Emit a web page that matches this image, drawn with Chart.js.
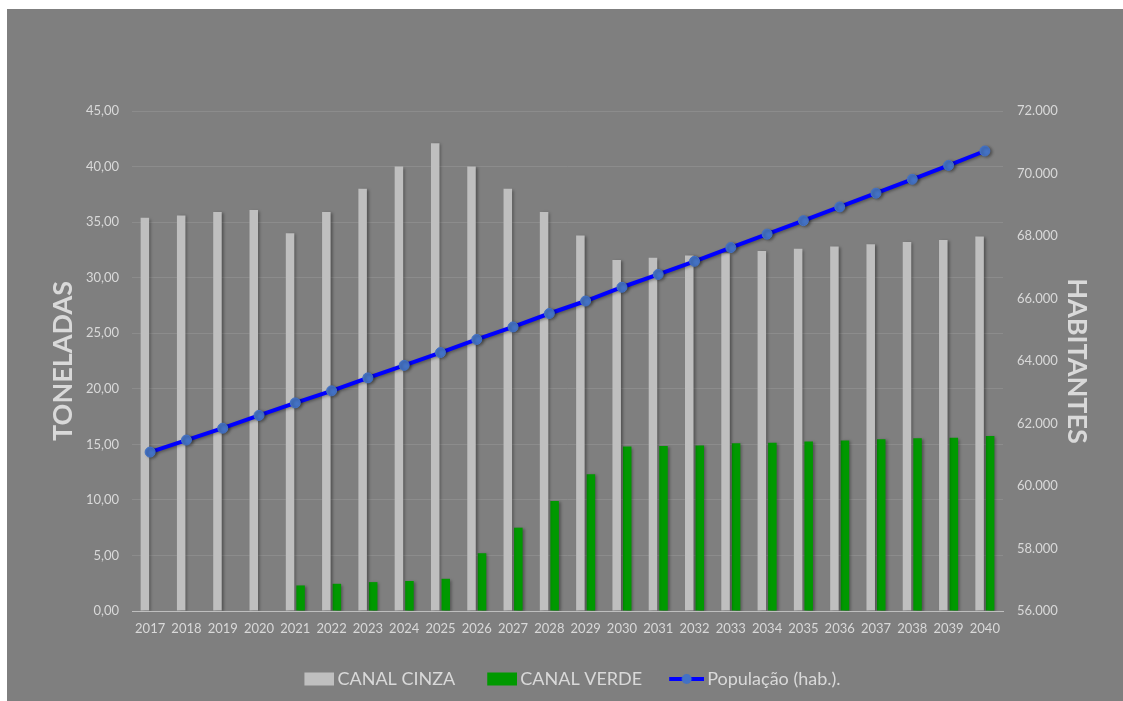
<!DOCTYPE html>
<html>
<head>
<meta charset="utf-8">
<script src="https://cdn.jsdelivr.net/npm/chart.js@4"></script>
<style>
  html, body { margin: 0; padding: 0; background: #ffffff; overflow: hidden; }
  #wrap { position: absolute; left: 0; top: 0; width: 1123px; height: 701px; }
</style>
</head>
<body>
<div id="wrap"><canvas id="grafico"></canvas></div>
<script>
// anos do eixo x
const anos = ['2017', '2018', '2019', '2020', '2021', '2022', '2023', '2024', '2025', '2026', '2027', '2028',
    '2029', '2030', '2031', '2032', '2033', '2034', '2035', '2036', '2037', '2038', '2039', '2040'];

// toneladas
const canalCinza = [35.4, 35.6, 35.9, 36.1, 34.0, 35.9, 38.0, 40.0, 42.1, 40.0, 38.0, 35.9,
    33.8, 31.6, 31.8, 32.0, 32.2, 32.4, 32.6, 32.8, 33.0, 33.2, 33.4, 33.7];
const canalVerde = [null, null, null, null, 2.3, 2.45, 2.6, 2.7, 2.9, 5.2, 7.5, 9.9,
    12.3, 14.8, 14.85, 14.9, 15.1, 15.15, 15.25, 15.35, 15.45, 15.55, 15.6, 15.75];

// habitantes
const populacao = [61085, 61470, 61850, 62260, 62660, 63045, 63460, 63860, 64270, 64690, 65090, 65520,
    65920, 66360, 66770, 67190, 67630, 68060, 68490, 68930, 69370, 69815, 70260, 70720];

const corTexto = '#d9d9d9';
const fonte = 'Lato, "Open Sans", sans-serif';

// caixinha da legenda (conteudo alinhado a direita para ficar perto do texto)
function iconeLegenda(tipo, cor) {
    const c = document.createElement('canvas');
    c.width = 58;
    c.height = 14;
    const g = c.getContext('2d');
    if (tipo === 'linha') {
        g.strokeStyle = '#0000ff';
        g.lineWidth = 4;
        g.beginPath();
        g.moveTo(23, 7);
        g.lineTo(58, 7);
        g.stroke();
        g.fillStyle = '#4472c4';
        g.beginPath();
        g.arc(40.5, 7, 5, 0, Math.PI * 2);
        g.fill();
    } else {
        g.fillStyle = cor;
        g.fillRect(28, 0.5, 30, 13);
    }
    return c;
}

const fundo = {
    id: 'fundo',
    beforeDraw(chart) {
        const ctx = chart.ctx;
        ctx.save();
        ctx.fillStyle = '#7f7f7f';
        ctx.fillRect(7, 9, chart.width - 7, chart.height - 9);
        ctx.restore();
    }
};

const sombra = {
    id: 'sombra',
    beforeDatasetsDraw(chart) {
        const ctx = chart.ctx;
        ctx.save();
        ctx.shadowColor = 'rgba(0,0,0,0.35)';
        ctx.shadowOffsetX = 2;
        ctx.shadowOffsetY = 1;
        ctx.shadowBlur = 3;
    },
    afterDatasetsDraw(chart) {
        chart.ctx.restore();
    }
};

const ctx = document.getElementById('grafico').getContext('2d');
new Chart(ctx, {
    data: {
        labels: anos,
        datasets: [
            {
                type: 'bar',
                label: 'CANAL CINZA',
                data: canalCinza,
                backgroundColor: '#bfbfbf',
                yAxisID: 'y',
                order: 1,
                categoryPercentage: 0.58,
                barPercentage: 0.81
            },
            {
                type: 'bar',
                label: 'CANAL VERDE',
                data: canalVerde,
                backgroundColor: '#009900',
                yAxisID: 'y',
                order: 1,
                categoryPercentage: 0.58,
                barPercentage: 0.81
            },
            {
                type: 'line',
                label: 'População (hab.).',
                data: populacao,
                borderColor: '#0000ff',
                borderWidth: 4,
                pointRadius: 5,
                pointBackgroundColor: '#4472c4',
                pointBorderColor: '#4472c4',
                pointBorderWidth: 1,
                yAxisID: 'y1',
                order: 0
            }
        ]
    },
    options: {
        responsive: true,
        maintainAspectRatio: false,
        animation: false,
        layout: { padding: { top: 111, bottom: 3, left: 0, right: 0 } },
        scales: {
            x: {
                offset: true,
                grid: { display: false, drawTicks: false },
                border: { display: true, color: '#bfbfbf', width: 1 },
                ticks: { color: corTexto, font: { family: fonte, size: 13 }, padding: 10, maxRotation: 0, autoSkip: false },
                afterFit(scale) { scale.height = 49; }
            },
            y: {
                position: 'left',
                min: 0,
                max: 45,
                ticks: {
                    stepSize: 5,
                    color: corTexto,
                    padding: 13,
                    font: { family: fonte, size: 13 },
                    callback: v => v.toFixed(2).replace('.', ',')
                },
                grid: { color: '#8c8c8c', drawTicks: false },
                border: { display: false },
                title: {
                    display: true,
                    text: 'TONELADAS',
                    color: corTexto,
                    font: { family: fonte, size: 27, weight: 'bold' },
                    padding: { top: 47, bottom: 0 }
                },
                afterFit(scale) { scale.width = 132; }
            },
            y1: {
                position: 'right',
                min: 56000,
                max: 72000,
                ticks: {
                    stepSize: 2000,
                    color: corTexto,
                    padding: 14,
                    font: { family: fonte, size: 13 },
                    callback: v => String(v).replace(/\B(?=(\d{3})+(?!\d))/g, '.')
                },
                grid: { display: false, drawTicks: false },
                border: { display: false },
                title: {
                    display: true,
                    text: 'HABITANTES',
                    color: corTexto,
                    font: { family: fonte, size: 27, weight: 'bold' },
                    padding: { top: 30, bottom: 0 }
                },
                afterFit(scale) { scale.width = 120; }
            }
        },
        plugins: {
            legend: {
                display: true,
                position: 'bottom',
                labels: {
                    usePointStyle: true,
                    pointStyleWidth: 46,
                    padding: 10,
                    color: corTexto,
                    font: { family: fonte, size: 18 },
                    sort: (a, b) => a.datasetIndex - b.datasetIndex,
                    generateLabels(chart) {
                        const itens = Chart.defaults.plugins.legend.labels.generateLabels(chart);
                        itens.forEach(item => {
                            if (item.datasetIndex === 2) item.pointStyle = iconeLegenda('linha');
                            else item.pointStyle = iconeLegenda('barra', chart.data.datasets[item.datasetIndex].backgroundColor);
                        });
                        return itens;
                    }
                }
            },
            tooltip: { enabled: false }
        }
    },
    plugins: [fundo, sombra]
});
</script>
</body>
</html>
